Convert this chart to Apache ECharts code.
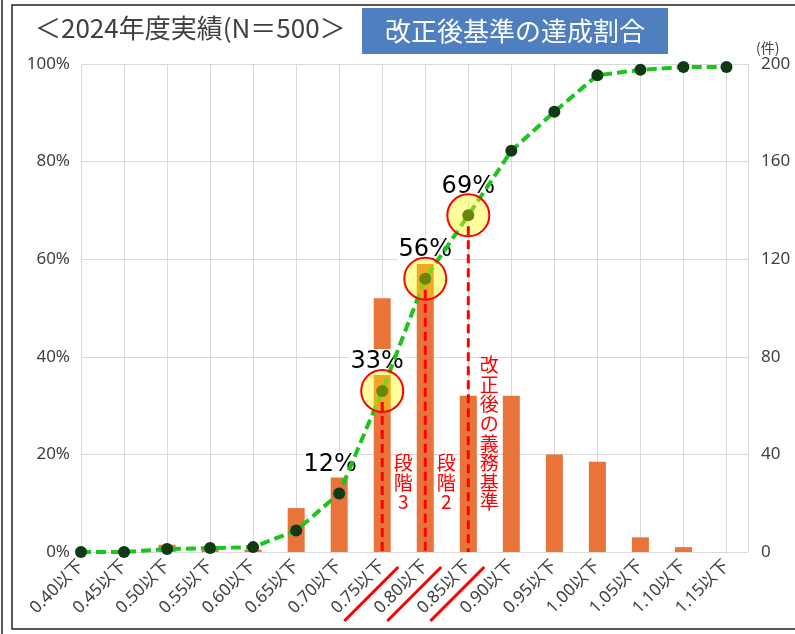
<!DOCTYPE html>
<html>
<head>
<meta charset="utf-8">
<script src="https://cdn.jsdelivr.net/npm/echarts@6/dist/echarts.min.js"></script>
<style>
  html, body { margin: 0; padding: 0; background: #ffffff; }
  #chart { width: 795px; height: 634px; }
</style>
</head>
<body>
<div id="chart"></div>
<script>
// Ratio classes (x axis)
const categories = ['0.40以下', '0.45以下', '0.50以下', '0.55以下', '0.60以下', '0.65以下', '0.70以下', '0.75以下',
  '0.80以下', '0.85以下', '0.90以下', '0.95以下', '1.00以下', '1.05以下', '1.10以下', '1.15以下'];
// Number of cases per class (right axis, 件)
const counts = [0, 0, 3, 1, 1, 18, 37, 104, 118, 64, 64, 40, 37, 6, 2, 0];
// Cumulative achievement rate, % (left axis)
const cumulative = [0, 0, 0.6, 0.8, 1.0, 4.4, 12, 33, 56, 69, 82.2, 90.2, 97.7, 98.8, 99.4, 99.4];
// Axis ticks
const pctTicks = { min: 0, max: 100, step: 20 };
const countTicks = { min: 0, max: 200, step: 40 };

// Annotated points: class index and horizontal nudge of the % label
const callouts = [
  { idx: 6, dx: -9, circled: false },
  { idx: 7, dx: -5, circled: true },
  { idx: 8, dx: 0, circled: true },
  { idx: 9, dx: 0, circled: true }
];
const stageNotes = [
  { idx: 7, text: '段階3' },
  { idx: 8, text: '段階2' },
  { idx: 9, text: '改正後の義務基準' }
];
const underlined = [7, 8, 9];

const CJK = "'Noto Sans CJK JP', 'Noto Sans', sans-serif";
const LATIN = "'Noto Sans', 'Noto Sans CJK JP', sans-serif";
const textGray = '#404040';
const gridGray = '#D9D9D9';

const chart = echarts.init(document.getElementById('chart'), null, { renderer: 'canvas' });

const option = {
  animation: false,
  backgroundColor: '#ffffff',
  grid: { left: 81, right: 47, top: 64, bottom: 82 },
  xAxis: {
    type: 'value',
    min: 0,
    max: categories.length - 0.5,
    interval: 1,
    axisLine: { show: false },
    axisTick: { show: false },
    splitLine: { show: true, lineStyle: { color: gridGray, width: 1 } },
    axisLabel: {
      rotate: 45,
      margin: 11,
      fontSize: 17,
      color: textGray,
      fontFamily: LATIN,
      formatter: v => (Number.isInteger(v) && categories[v] !== undefined) ? categories[v] : ''
    }
  },
  yAxis: [
    {
      type: 'value',
      min: pctTicks.min, max: pctTicks.max, interval: pctTicks.step,
      axisLine: { show: false },
      axisTick: { show: false },
      splitLine: { show: true, lineStyle: { color: gridGray, width: 1 } },
      axisLabel: { formatter: '{value}%', fontSize: 17, color: textGray, fontFamily: LATIN, margin: 11 }
    },
    {
      type: 'value',
      position: 'right',
      min: countTicks.min, max: countTicks.max, interval: countTicks.step,
      name: '(件)',
      nameLocation: 'end',
      nameGap: 9,
      nameTextStyle: { fontSize: 14, color: textGray, fontFamily: CJK, align: 'left', padding: [0, 0, 0, 8] },
      axisLine: { show: false },
      axisTick: { show: false },
      splitLine: { show: false },
      axisLabel: { fontSize: 17, color: textGray, fontFamily: LATIN, margin: 13 }
    }
  ],
  graphic: [
    // frame
    { type: 'line', shape: { x1: 2, y1: 0, x2: 2, y2: 634 }, style: { stroke: '#222', lineWidth: 1.5 }, z: 100 },
    { type: 'rect', shape: { x: 12, y: 5, width: 800, height: 624 }, style: { fill: null, stroke: '#222', lineWidth: 1.5 }, z: 100 },
    // heading
    {
      type: 'text', left: 35, top: 15, z: 100,
      style: { text: '＜2024年度実績(N＝500＞', fontSize: 26, fill: textGray, fontFamily: CJK }
    },
    {
      type: 'group', left: 362, top: 8, z: 100,
      children: [
        { type: 'rect', shape: { x: 0, y: 0, width: 306, height: 46 }, style: { fill: '#4F7FBF' } },
        {
          type: 'text', x: 153, y: 23,
          style: { text: '改正後基準の達成割合', fontSize: 26, fill: '#ffffff', fontFamily: CJK, align: 'center', verticalAlign: 'middle' }
        }
      ]
    }
  ],
  series: [
    {
      name: '件数',
      type: 'bar',
      yAxisIndex: 1,
      barWidth: 17,
      z: 1,
      itemStyle: { color: '#E9743A' },
      data: counts.map((c, i) => [i, c])
    },
    {
      name: 'pct-labels',
      type: 'custom',
      coordinateSystem: 'cartesian2d',
      yAxisIndex: 0,
      z: 2,
      clip: false,
      data: callouts.map(c => [c.idx, cumulative[c.idx], c.dx]),
      renderItem: (params, api) => {
        const p = api.coord([api.value(0), api.value(1)]);
        return {
          type: 'text',
          x: p[0] + api.value(2),
          y: p[1] - 29,
          style: {
            text: Math.round(api.value(1)) + '%',
            fontSize: 24,
            fontFamily: "'DejaVu Sans', sans-serif",
            fill: '#000000',
            align: 'center',
            verticalAlign: 'middle',
            backgroundColor: '#ffffff',
            padding: [1, 1]
          }
        };
      }
    },
    {
      name: '達成割合',
      type: 'line',
      yAxisIndex: 0,
      z: 3,
      symbol: 'circle',
      symbolSize: 12,
      itemStyle: { color: '#0E3A14' },
      lineStyle: { color: '#1DC41D', width: 4, type: [10, 5] },
      data: cumulative.map((v, i) => [i, v])
    },
    {
      name: 'highlight',
      type: 'custom',
      coordinateSystem: 'cartesian2d',
      yAxisIndex: 0,
      z: 4,
      data: callouts.filter(c => c.circled).map(c => [c.idx, cumulative[c.idx]]),
      renderItem: (params, api) => {
        const p = api.coord([api.value(0), api.value(1)]);
        const base = api.coord([api.value(0), 0]);
        return {
          type: 'group',
          children: [
            {
              type: 'circle',
              shape: { cx: p[0], cy: p[1], r: 21 },
              style: { fill: 'rgba(255,255,0,0.38)', stroke: '#FF0000', lineWidth: 2 }
            },
            {
              type: 'line',
              shape: { x1: p[0], y1: p[1] + 11, x2: p[0], y2: base[1] },
              style: { stroke: '#FF0000', lineWidth: 3, lineDash: [9, 5] }
            }
          ]
        };
      }
    },
    {
      name: 'stage-notes',
      type: 'custom',
      coordinateSystem: 'cartesian2d',
      yAxisIndex: 0,
      z: 4,
      clip: false,
      data: stageNotes.map(s => [s.idx, 0, s.text]),
      renderItem: (params, api) => {
        const base = api.coord([api.value(0), 0]);
        const txt = stageNotes[params.dataIndex].text;
        return {
          type: 'text',
          x: base[0] + 21,
          y: base[1] - 40,
          style: {
            text: txt.split('').join('\n'),
            fontSize: 19,
            lineHeight: 19.6,
            fontFamily: CJK,
            fill: '#FF0000',
            align: 'center',
            verticalAlign: 'bottom'
          }
        };
      }
    },
    {
      name: 'underline',
      type: 'custom',
      coordinateSystem: 'cartesian2d',
      yAxisIndex: 0,
      z: 4,
      clip: false,
      data: underlined.map(i => [i, 0]),
      renderItem: (params, api) => {
        const base = api.coord([api.value(0), 0]);
        return {
          type: 'line',
          shape: { x1: base[0] - 38, y1: base[1] + 69, x2: base[0] + 16, y2: base[1] + 15 },
          style: { stroke: '#FF0000', lineWidth: 3 }
        };
      }
    }
  ]
};

chart.setOption(option);
</script>
</body>
</html>
